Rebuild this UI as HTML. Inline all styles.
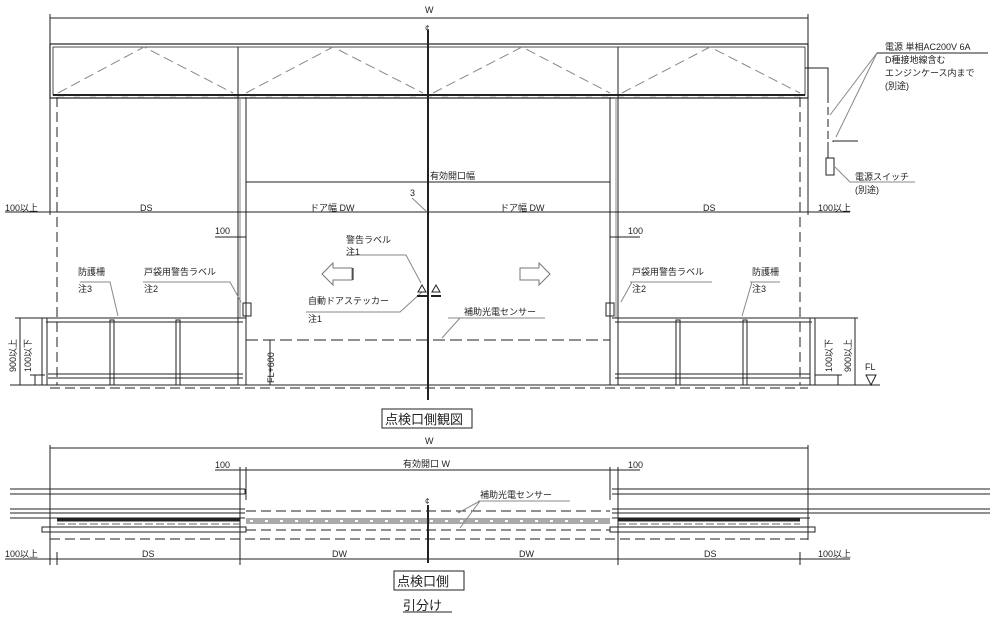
<!DOCTYPE html>
<html><head><meta charset="utf-8"><style>
html,body{margin:0;padding:0;background:#fff}
svg{display:block}
text{font-family:"Liberation Sans","Noto Sans CJK JP",sans-serif;fill:#222}
</style></head><body>
<svg width="1000" height="633" viewBox="0 0 1000 633" xmlns="http://www.w3.org/2000/svg">
<g stroke="#222" fill="none" stroke-width="1">
<!-- top dim W -->
<line x1="50" y1="18" x2="808" y2="18"/>
<line x1="50" y1="14" x2="50" y2="215"/>
<line x1="808" y1="14" x2="808" y2="45"/>
<!-- header box -->
<rect x="50" y="44" width="758" height="54" stroke-width="1.2"/>
<rect x="53" y="47" width="752" height="48" stroke-width="0.8"/>
<line x1="53" y1="95" x2="805" y2="95" stroke-width="2"/>
<g stroke="#888" stroke-dasharray="10,5">
<polyline points="58,93 144,47 233,93"/>
<polyline points="246,93 333,47 423,93"/>
<polyline points="433,93 522,47 610,93"/>
<polyline points="622,93 710,47 800,93"/>
</g>
<line x1="58" y1="97" x2="800" y2="97" stroke="#bbb" stroke-dasharray="6,10"/>
<!-- verticals -->
<line x1="57" y1="97" x2="57" y2="385" stroke-dasharray="10,5"/>
<line x1="800" y1="97" x2="800" y2="385" stroke-dasharray="10,5"/>
<line x1="238" y1="47" x2="238" y2="385"/>
<line x1="240" y1="97" x2="240" y2="318" stroke="#888"/>
<line x1="246" y1="97" x2="246" y2="385"/>
<line x1="610" y1="97" x2="610" y2="385"/>
<line x1="618" y1="47" x2="618" y2="385"/>
<line x1="616" y1="97" x2="616" y2="318" stroke="#888"/>
<line x1="428" y1="30" x2="428" y2="400" stroke-width="2"/>
<line x1="808" y1="45" x2="808" y2="215"/>
<!-- 有効開口幅 -->
<line x1="246" y1="182" x2="610" y2="182"/>
<!-- DS line -->
<line x1="5" y1="212" x2="850" y2="212"/>
<line x1="412" y1="198" x2="427" y2="212" stroke="#888"/>
<line x1="215" y1="237" x2="246" y2="237"/>
<line x1="610" y1="237" x2="640" y2="237"/>
<!-- arrows -->
<polygon points="322,274 333,263 333,268 352,268 352,280 333,280 333,285" stroke="#777"/>
<line x1="353" y1="268" x2="353" y2="280"/>
<polygon points="550,274 539,263 539,268 520,268 520,280 539,280 539,285" stroke="#777"/>
<!-- labels leaders -->
<g stroke="#888">
<polyline points="346,255 406,255 421,283"/>
<polyline points="306,312 400,312 422,292"/>
<polyline points="448,318 545,318"/>
<line x1="460" y1="318" x2="442" y2="338"/>
<polyline points="80,282 110,282 118,316"/>
<polyline points="143,282 230,282 241,302"/>
<polyline points="630,282 712,282"/>
<line x1="632" y1="282" x2="621" y2="302"/>
<polyline points="750,282 780,282"/>
<line x1="752" y1="282" x2="742" y2="316"/>
</g>
<!-- warning triangles -->
<polygon points="418,292 422,285 426,292"/><line x1="417" y1="296" x2="427" y2="296" stroke-width="2"/>
<polygon points="432,292 436,285 440,292"/><line x1="431" y1="296" x2="441" y2="296" stroke-width="2"/>
<rect x="243" y="303" width="8" height="13"/>
<rect x="606" y="303" width="8" height="13"/>
<!-- guardrails left -->
<line x1="42" y1="318" x2="246" y2="318"/>
<line x1="46" y1="322" x2="243" y2="322"/>
<rect x="42" y="318" width="5" height="67"/>
<rect x="110" y="320" width="4" height="65"/>
<rect x="176" y="320" width="4" height="65"/>
<line x1="48" y1="374" x2="243" y2="374"/>
<line x1="48" y1="378" x2="243" y2="378"/>
<!-- guardrails right -->
<line x1="612" y1="318" x2="815" y2="318"/>
<line x1="615" y1="322" x2="812" y2="322"/>
<rect x="810" y="318" width="5" height="67"/>
<rect x="676" y="320" width="4" height="65"/>
<rect x="743" y="320" width="4" height="65"/>
<line x1="615" y1="374" x2="810" y2="374"/>
<line x1="615" y1="378" x2="810" y2="378"/>
<!-- floor -->
<line x1="10" y1="385" x2="880" y2="385"/>
<line x1="50" y1="388" x2="808" y2="388" stroke-dasharray="10,5"/>
<!-- dims side -->
<line x1="20" y1="318" x2="20" y2="385"/><line x1="15" y1="318" x2="42" y2="318"/>
<line x1="35" y1="375" x2="35" y2="385"/><line x1="30" y1="375" x2="45" y2="375"/>
<line x1="855" y1="318" x2="855" y2="385"/><line x1="815" y1="318" x2="858" y2="318"/>
<line x1="838" y1="375" x2="838" y2="385"/><line x1="815" y1="375" x2="842" y2="375"/>
<polygon points="866,375 876,375 871,385"/>
<!-- sensor -->
<line x1="246" y1="340" x2="610" y2="340" stroke-dasharray="12,5"/>
<line x1="270" y1="340" x2="270" y2="385"/>
<!-- electric -->
<polyline points="805,68 828,68 828,95"/>
<line x1="828" y1="95" x2="828" y2="142" stroke-dasharray="8,4"/>
<rect x="826" y="158" width="8" height="17"/>
<line x1="828" y1="142" x2="828" y2="158"/>
<polyline points="833,142 833,141 858,141"/>
<g stroke="#888"><polyline points="888,53 877,53 830,115"/><line x1="877" y1="53" x2="836" y2="137"/>
<polyline points="835,167 850,182 915,182"/></g>
<line x1="877" y1="53" x2="988" y2="53"/>
<!-- title box -->
<rect x="382" y="409" width="90" height="19"/>
<!-- bottom W -->
<line x1="50" y1="448" x2="808" y2="448"/>
<line x1="50" y1="445" x2="50" y2="565"/>
<line x1="808" y1="445" x2="808" y2="540"/>
<line x1="215" y1="470" x2="246" y2="470"/>
<line x1="246" y1="470" x2="610" y2="470"/>
<line x1="610" y1="470" x2="640" y2="470"/>
<line x1="240" y1="467" x2="240" y2="565"/>
<line x1="246" y1="467" x2="246" y2="500"/>
<line x1="610" y1="467" x2="610" y2="500"/>
<line x1="618" y1="467" x2="618" y2="565"/>
<!-- rails left -->
<line x1="10" y1="489" x2="245" y2="489"/><line x1="10" y1="494" x2="245" y2="494"/>
<line x1="245" y1="489" x2="245" y2="494"/>
<line x1="10" y1="509" x2="245" y2="509"/><line x1="10" y1="513" x2="245" y2="513"/>
<line x1="10" y1="518" x2="245" y2="518"/>
<line x1="57" y1="520" x2="240" y2="520" stroke-width="3"/>
<line x1="57" y1="524" x2="240" y2="524" stroke="#666" stroke-dasharray="8,3"/>
<rect x="42" y="527" width="204" height="5"/>
<!-- rails right -->
<line x1="612" y1="489" x2="990" y2="489"/><line x1="612" y1="494" x2="990" y2="494"/>
<line x1="612" y1="509" x2="990" y2="509"/><line x1="612" y1="513" x2="990" y2="513"/>
<line x1="612" y1="518" x2="810" y2="518"/>
<line x1="618" y1="520" x2="800" y2="520" stroke-width="3"/>
<line x1="618" y1="524" x2="800" y2="524" stroke="#666" stroke-dasharray="8,3"/>
<rect x="610" y="527" width="205" height="5"/>
<!-- middle -->
<line x1="246" y1="511" x2="610" y2="511" stroke-dasharray="10,5"/>
<rect x="246" y="518" width="364" height="6" fill="#aaa" stroke="none"/>
<line x1="250" y1="521" x2="606" y2="521" stroke="#fff" stroke-width="2" stroke-dasharray="3,12"/>
<line x1="246" y1="530" x2="610" y2="530" stroke-dasharray="10,5"/>
<line x1="50" y1="539" x2="808" y2="539" stroke-dasharray="10,5"/>
<line x1="428" y1="505" x2="428" y2="563" stroke-width="2"/>
<g stroke="#888"><polyline points="478,501 570,501"/><line x1="480" y1="501" x2="458" y2="513"/><line x1="480" y1="501" x2="460" y2="528"/></g>
<line x1="5" y1="559" x2="850" y2="559"/>
<line x1="57" y1="552" x2="57" y2="565"/>
<line x1="800" y1="552" x2="800" y2="565"/>
<rect x="394" y="571" width="70" height="19"/>
<line x1="403" y1="612" x2="452" y2="612"/>
</g>
<g font-size="9">
<text x="425" y="13">W</text>
<text x="425" y="31" font-size="8">¢</text>
<text x="430" y="179">有効開口幅</text>
<text x="410" y="196">3</text>
<text x="5" y="211">100以上</text>
<text x="140" y="211">DS</text>
<text x="310" y="211">ドア幅 DW</text>
<text x="500" y="211">ドア幅 DW</text>
<text x="703" y="211">DS</text>
<text x="818" y="211">100以上</text>
<text x="215" y="234">100</text>
<text x="628" y="234">100</text>
<text x="346" y="243">警告ラベル</text>
<text x="346" y="255">注1</text>
<text x="308" y="304">自動ドアステッカー</text>
<text x="308" y="322">注1</text>
<text x="464" y="315">補助光電センサー</text>
<text x="78" y="275">防護柵</text>
<text x="78" y="292">注3</text>
<text x="144" y="275">戸袋用警告ラベル</text>
<text x="144" y="292">注2</text>
<text x="632" y="275">戸袋用警告ラベル</text>
<text x="632" y="292">注2</text>
<text x="752" y="275">防護柵</text>
<text x="752" y="292">注3</text>
<text x="885" y="50">電源 単相AC200V 6A</text>
<text x="885" y="63">D種接地線含む</text>
<text x="885" y="76">エンジンケース内まで</text>
<text x="885" y="89">(別途)</text>
<text x="855" y="180">電源スイッチ</text>
<text x="855" y="193">(別途)</text>
<text x="865" y="370">FL</text>
<text transform="translate(16,372) rotate(-90)">900以上</text>
<text transform="translate(31,372) rotate(-90)">100以下</text>
<text transform="translate(832,372) rotate(-90)">100以下</text>
<text transform="translate(851,372) rotate(-90)">900以上</text>
<text transform="translate(274,383) rotate(-90)">FL+600</text>
<text x="425" y="444">W</text>
<text x="215" y="468">100</text>
<text x="628" y="468">100</text>
<text x="403" y="467">有効開口 W</text>
<text x="480" y="498">補助光電センサー</text>
<text x="425" y="504" font-size="8">¢</text>
<text x="5" y="557">100以上</text>
<text x="142" y="557">DS</text>
<text x="332" y="557">DW</text>
<text x="519" y="557">DW</text>
<text x="704" y="557">DS</text>
<text x="818" y="557">100以上</text>
</g>
<g font-size="13">
<text x="385" y="424">点検口側観図</text>
<text x="397" y="586">点検口側</text>
<text x="403" y="610">引分け</text>
</g>
</svg>
</body></html>
